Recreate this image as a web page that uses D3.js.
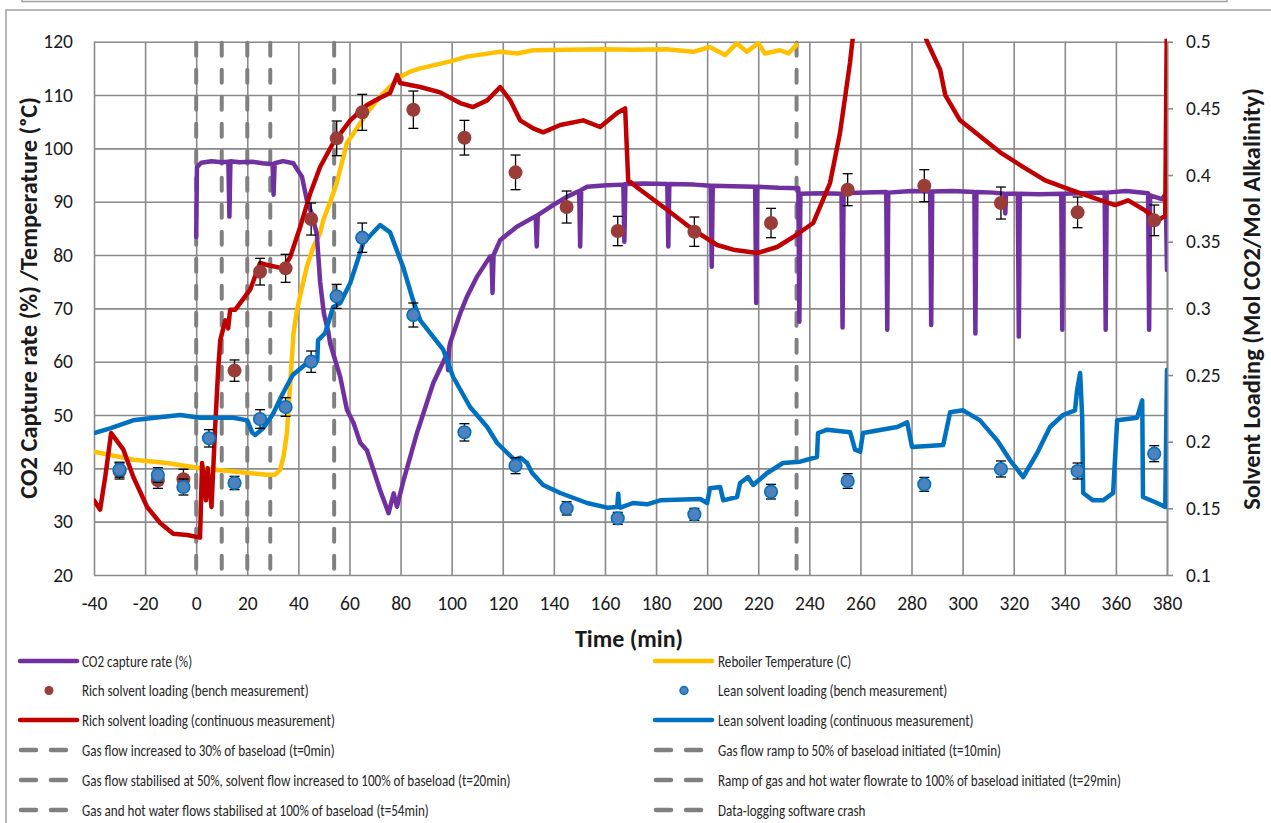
<!DOCTYPE html>
<html>
<head>
<meta charset="utf-8">
<script src="https://cdn.jsdelivr.net/npm/d3@7/dist/d3.min.js"></script>
<style>
  html, body { margin: 0; padding: 0; background: #fff; }
  svg { display: block; }
  text { font-family: Carlito, "Liberation Sans Narrow", Lato, sans-serif; }
</style>
</head>
<body>
<svg id="chart" width="1271" height="823"></svg>
<script>
// ---------------- DATA ----------------
const xTicks = [-40,-20,0,20,40,60,80,100,120,140,160,180,200,220,240,260,280,300,320,340,360,380];
const leftTicks = [20,30,40,50,60,70,80,90,100,110,120];
const rightTicks = [0.1,0.15,0.2,0.25,0.3,0.35,0.4,0.45,0.5];
const rightTickLabels = ["0.1","0.15","0.2","0.25","0.3","0.35","0.4","0.45","0.5"];

// CO2 capture rate (%) [time, value] - left axis
const co2Capture = [[0,83.4],[0.3,96.5],[2,97.3],[6,97.6],[10,97.4],[12.6,97.5],[13,87.2],[13.4,97.6],[17,97.4],[22,97.5],[26,97.2],[29.9,97],[30.3,91.3],[30.7,97.2],[34,97.6],[38,97.2],[41.4,94.7],[43.3,90.3],[45,88],[47.2,84],[48.5,75],[50,69],[51.8,65.4],[52.4,63.5],[56.4,57.1],[59,51],[61.6,48.5],[64.2,44.8],[66.8,43.4],[69.4,39.7],[72,35.9],[75.3,31.6],[77.3,35.3],[78.6,32.8],[81.2,37.8],[83.8,42.2],[86.4,46.6],[87.7,48.5],[92.8,56],[98.2,61.5],[98.6,58.4],[99,62.5],[99.4,63.5],[103.3,69],[106,72.2],[110,76],[115,79.7],[115.6,79.7],[116,72.9],[116.4,80],[119,82.8],[125.5,85.3],[132.9,87.3],[133.3,81.6],[133.7,87.5],[138.5,89],[145,90.9],[149.9,92],[150.3,81.6],[150.7,92.2],[153,92.8],[160.7,93.1],[167.2,93.2],[167.6,82.5],[168,93.3],[175,93.4],[184.4,93.3],[184.8,81.6],[185.2,93.3],[195,93.2],[201.4,93],[201.8,77.8],[202.2,93],[210,92.9],[218.8,92.8],[219.2,71],[219.6,92.8],[228,92.6],[235.7,92.5],[236.1,67.5],[236.5,91.5],[245,91.6],[252.6,91.5],[253,66.4],[253.4,91.6],[262,91.7],[270.1,91.8],[270.5,66],[270.9,91.7],[280,92],[287.3,91.9],[287.7,66.9],[288.1,91.9],[296,92],[304.6,91.8],[305,65.3],[305.4,91.8],[312,91.7],[316.4,91.5],[316.7,87.8],[317,91.5],[321.6,91.5],[322,64.7],[322.4,91.5],[330,91.4],[338.6,91.5],[339,66],[339.4,91.5],[347,91.6],[355.6,91.7],[356,66],[356.4,91.7],[364,92],[372.6,91.6],[373,66],[373.4,91.2],[378,90.5],[379.5,91.5],[380,77.2]];

// Reboiler temperature (C) - left axis
const reboilerTemp = [[-40,43.1],[-24.5,41.6],[-11.5,41],[1.5,40],[14.6,39.4],[27.7,38.8],[30.9,38.8],[32.8,39.7],[34.2,42.2],[35.5,46.6],[36.8,55.9],[38.1,65.3],[39.4,69.5],[41,73],[43.3,77.8],[45.9,81.6],[48.5,84.1],[49.8,86.6],[53.7,91.6],[55,93.5],[59,101],[61.6,102.8],[66.8,106.6],[72,109.7],[77.2,112.2],[79.8,113.4],[83.8,114.4],[87.7,115],[99.4,116.3],[106,117.2],[119,118.1],[125.5,117.8],[132,118.4],[145,118.5],[160,118.6],[171,118.5],[184,118.6],[194.6,118.1],[201,119],[207,117.5],[211.6,119.7],[215.5,118.1],[220,119.7],[222.6,117.8],[228.5,118.4],[231.8,117.8],[235,119.4]];

// Rich solvent loading (continuous) - right axis
const richContinuous = [[-40,0.156],[-37.6,0.149],[-35.5,0.175],[-33.3,0.2065],[-28.5,0.194],[-24.6,0.1735],[-19.2,0.151],[-14.1,0.139],[-9,0.131],[-3.5,0.130],[1.5,0.128],[2.3,0.184],[3.8,0.156],[4.5,0.18],[6,0.151],[7.4,0.21],[8.6,0.254],[9.4,0.276],[11.4,0.291],[12.5,0.285],[13.3,0.299],[15.3,0.299],[18,0.306],[21.1,0.314],[25,0.334],[27.8,0.3325],[34,0.330],[36.8,0.3385],[40.7,0.361],[44.6,0.386],[48.5,0.406],[53.6,0.424],[60.3,0.441],[66.9,0.4525],[72,0.458],[75.9,0.4615],[78.7,0.475],[79.8,0.469],[87.7,0.466],[95.5,0.462],[103.3,0.454],[108.4,0.451],[113.9,0.456],[119,0.466],[122.9,0.456],[126.8,0.441],[131.9,0.435],[135.8,0.432],[142.5,0.4375],[151.5,0.441],[158.1,0.436],[164.8,0.4465],[167.9,0.450],[169.1,0.396],[173.8,0.389],[184.3,0.374],[194.5,0.359],[203.9,0.3475],[210.2,0.344],[219.6,0.3415],[227.4,0.346],[233.7,0.3535],[241.5,0.364],[248.1,0.394],[252,0.4315],[255.9,0.484],[258,0.52],[270,0.56],[282,0.52],[286.1,0.5],[291.2,0.479],[293.2,0.460],[299,0.441],[308.8,0.426],[314.7,0.417],[322.5,0.4075],[332.3,0.396],[342.1,0.389],[351.9,0.3825],[359.7,0.3775],[364.8,0.381],[371.4,0.3735],[376.5,0.366],[379.3,0.3695],[380,0.53]];

// Lean solvent loading (continuous) - right axis
const leanContinuous = [[-40,0.2065],[-33.7,0.21],[-24.7,0.216],[-18,0.2175],[-6.3,0.22],[1.6,0.218],[14.5,0.218],[20,0.216],[21.9,0.207],[23.1,0.205],[26.2,0.21],[30.1,0.221],[34,0.2365],[37.8,0.25],[43.4,0.259],[47.4,0.261],[47.7,0.276],[50.5,0.2815],[53.6,0.301],[56.4,0.304],[60.3,0.319],[65.4,0.349],[72,0.3625],[75.9,0.357],[81,0.331],[84.9,0.306],[87.7,0.291],[96.7,0.269],[100.6,0.2485],[107.2,0.226],[113.9,0.211],[117.8,0.199],[124.5,0.1865],[127,0.188],[129.5,0.184],[131.5,0.1765],[135.8,0.1675],[142.5,0.1615],[153,0.154],[160.9,0.1505],[164.8,0.151],[165.2,0.161],[165.6,0.151],[166,0.1505],[171,0.154],[176.5,0.153],[181.6,0.156],[197.3,0.157],[200,0.154],[201.1,0.165],[205.1,0.166],[206.3,0.156],[211.7,0.1585],[212.9,0.169],[216,0.1735],[218,0.1675],[223.5,0.1765],[229.7,0.184],[236.4,0.185],[243,0.1885],[243.4,0.2065],[247,0.209],[256,0.207],[257.9,0.194],[259.9,0.1925],[261,0.2065],[274.4,0.211],[278.3,0.2145],[280.2,0.196],[292.4,0.1975],[295.1,0.222],[300.2,0.2235],[306.8,0.216],[313.5,0.201],[318.6,0.186],[323.7,0.1735],[329.2,0.1915],[334.2,0.211],[339.3,0.22],[344,0.2235],[344.8,0.2385],[346,0.2515],[346.8,0.2185],[347.2,0.1615],[351,0.156],[355,0.156],[358.9,0.1615],[360.5,0.216],[368.3,0.218],[370.3,0.231],[370.6,0.1585],[376.1,0.154],[379.3,0.151],[380,0.254]];

// Bench measurements [time, loading, error] - right axis
const richBench = [[-30,0.178,0.006],[-15,0.171,0.006],[-5,0.1718,0.0075],[15,0.2533,0.008],[25,0.3275,0.01],[35,0.330,0.0105],[45,0.367,0.012],[55,0.4275,0.013],[65,0.447,0.0135],[85,0.449,0.014],[105,0.428,0.013],[125,0.402,0.013],[145,0.376,0.012],[165,0.358,0.011],[195,0.3575,0.011],[225,0.364,0.011],[255,0.389,0.012],[285,0.392,0.012],[315,0.379,0.012],[345,0.372,0.0115],[375,0.366,0.0115]];
const leanBench = [[-30,0.179,0.0056],[-15,0.175,0.0055],[-5,0.166,0.006],[5,0.2025,0.0065],[15,0.169,0.005],[25,0.217,0.007],[35,0.226,0.007],[45,0.26,0.008],[55,0.309,0.009],[65,0.353,0.011],[85,0.295,0.009],[105,0.207,0.0065],[125,0.182,0.006],[145,0.15,0.005],[165,0.1425,0.0045],[195,0.1455,0.0045],[225,0.1625,0.0055],[255,0.1705,0.0055],[285,0.168,0.0052],[315,0.1795,0.006],[345,0.178,0.006],[375,0.191,0.006]];

// Event markers (vertical dashed lines), minutes
const eventTimes = [0,10,20,29,54,235];

// Legend labels (two columns)
const legendLeft = ["CO2 capture rate (%)","Rich solvent loading (bench measurement)","Rich solvent loading (continuous measurement)","Gas flow increased to 30% of baseload (t=0min)","Gas flow stabilised at 50%, solvent flow increased to 100% of baseload (t=20min)","Gas and hot water flows stabilised at 100% of baseload (t=54min)"];
const legendRight = ["Reboiler Temperature (C)","Lean solvent loading (bench measurement)","Lean solvent loading (continuous measurement)","Gas flow ramp to 50% of baseload initiated (t=10min)","Ramp of gas and hot water flowrate to 100% of baseload initiated (t=29min)","Data-logging software crash"];
const legendLeftKinds = ["line:purple","dot:rich","line:red","dash","dash","dash"];
const legendRightKinds = ["line:yellow","dot:lean","line:blue","dash","dash","dash"];

// ---------------- STYLE ----------------
const C = {purple:"#7030a0", yellow:"#ffc000", red:"#c00000", blue:"#0070c0",
           richFill:"#9a3c38", leanFill:"#4f81bd", leanStroke:"#0070c0",
           grid:"#8a8a8a", dash:"#808080", text:"#1a1a1a"};

const svg = d3.select("#chart");
const P = {l:94, r:1167, t:41.7, b:575};

const x = d3.scaleLinear().domain([-40,380]).range([P.l,P.r]);
const yL = d3.scaleLinear().domain([20,120]).range([P.b,P.t]);
const yR = d3.scaleLinear().domain([0.1,0.5]).range([P.b,P.t]);

// outer frames
svg.append("path").attr("d","M22,-2 V1.5 H1227 V-2").attr("fill","none").attr("stroke","#a0a0a0").attr("stroke-width",1.5);
svg.append("path").attr("d","M6,830 V10 H1280").attr("fill","none").attr("stroke","#a0a0a0").attr("stroke-width",1.5);

svg.append("defs").append("clipPath").attr("id","plotclip")
  .append("rect").attr("x",P.l).attr("y",P.t-3).attr("width",P.r-P.l).attr("height",P.b-P.t+3);

// grid + axes
const hy = d => String(d).replace("\u2212","-");
const gx = svg.append("g").attr("transform",`translate(0,${P.b})`)
  .call(d3.axisBottom(x).tickValues(xTicks).tickSize(-(P.b-P.t)).tickPadding(21).tickFormat(d=>hy(d)));
const gl = svg.append("g").attr("transform",`translate(${P.l},0)`)
  .call(d3.axisLeft(yL).tickValues(leftTicks).tickSize(-(P.r-P.l)).tickPadding(21).tickFormat(d=>hy(d)));
const gr = svg.append("g").attr("transform",`translate(${P.r},0)`)
  .call(d3.axisRight(yR).tickValues(rightTicks).tickSizeInner(6).tickSizeOuter(0).tickPadding(13).tickFormat((d,i)=>rightTickLabels[i]));
[gx,gl].forEach(g=>{ g.select(".domain").remove(); });
[gx,gl,gr].forEach(g=>{
  g.selectAll(".tick line").attr("stroke",C.grid).attr("stroke-width",1.6);
  g.selectAll("text").attr("fill",C.text).attr("font-size",19.5);
});
gr.select(".domain").attr("stroke",C.grid).attr("stroke-width",1.6);

// event lines
const plot = svg.append("g").attr("clip-path","url(#plotclip)");
plot.selectAll("line.ev").data(eventTimes).enter().append("line")
  .attr("x1",d=>x(d)).attr("x2",d=>x(d)).attr("y1",P.t+1).attr("y2",P.b)
  .attr("stroke",C.dash).attr("stroke-width",4).attr("stroke-dasharray","13,14").attr("stroke-linecap","round");

const lineL = d3.line().x(d=>x(d[0])).y(d=>yL(d[1]));
const lineR = d3.line().x(d=>x(d[0])).y(d=>yR(d[1]));
function drawLine(data, gen, color){
  plot.append("path").datum(data).attr("d",gen).attr("fill","none")
    .attr("stroke",color).attr("stroke-width",4.5).attr("stroke-linejoin","round").attr("stroke-linecap","round");
}
drawLine(reboilerTemp, lineL, C.yellow);
drawLine(co2Capture, lineL, C.purple);
drawLine(richContinuous, lineR, C.red);
drawLine(leanContinuous, lineR, C.blue);

// bench points with error bars
function drawBench(data, fill, stroke, r){
  const g = svg.append("g");
  const eb = g.selectAll("g.eb").data(data).enter().append("g");
  eb.append("line").attr("x1",d=>x(d[0])).attr("x2",d=>x(d[0]))
    .attr("y1",d=>yR(d[1]-d[2])).attr("y2",d=>yR(d[1]+d[2])).attr("stroke","#000").attr("stroke-width",1.3);
  eb.append("line").attr("x1",d=>x(d[0])-5).attr("x2",d=>x(d[0])+5)
    .attr("y1",d=>yR(d[1]-d[2])).attr("y2",d=>yR(d[1]-d[2])).attr("stroke","#000").attr("stroke-width",1.3);
  eb.append("line").attr("x1",d=>x(d[0])-5).attr("x2",d=>x(d[0])+5)
    .attr("y1",d=>yR(d[1]+d[2])).attr("y2",d=>yR(d[1]+d[2])).attr("stroke","#000").attr("stroke-width",1.3);
  g.selectAll("circle").data(data).enter().append("circle")
    .attr("cx",d=>x(d[0])).attr("cy",d=>yR(d[1])).attr("r",r)
    .attr("fill",fill).attr("stroke",stroke||"none").attr("stroke-width",stroke?1.6:0);
}
drawBench(richBench, C.richFill, null, 7);
drawBench(leanBench, C.leanFill, C.leanStroke, 6.3);

// axis titles
svg.append("text").attr("transform","translate(37,298) rotate(-90)").attr("text-anchor","middle")
  .attr("font-size",24.5).attr("font-weight","bold").attr("fill",C.text).text("CO2 Capture rate (%) /Temperature (ᵒC)");
svg.append("text").attr("transform","translate(1260,299) rotate(-90)").attr("text-anchor","middle")
  .attr("font-size",24.5).attr("font-weight","bold").attr("fill",C.text).text("Solvent Loading (Mol CO2/Mol Alkalinity)");
svg.append("text").attr("x",629).attr("y",647).attr("text-anchor","middle")
  .attr("font-size",24).attr("font-weight","bold").attr("fill",C.text).text("Time (min)");

// legend
const rowY = [661,690.5,720,750,780,810];
function drawLegend(labels, kinds, x0, textX){
  labels.forEach((lab,i)=>{
    const y = rowY[i], k = kinds[i];
    if(k.startsWith("line:")){
      svg.append("line").attr("x1",x0).attr("x2",x0+57).attr("y1",y).attr("y2",y)
        .attr("stroke",C[k.slice(5)]).attr("stroke-width",4.5).attr("stroke-linecap","round");
    } else if(k==="dot:rich"){
      svg.append("circle").attr("cx",x0+29).attr("cy",y).attr("r",4.5).attr("fill",C.richFill);
    } else if(k==="dot:lean"){
      svg.append("circle").attr("cx",x0+29).attr("cy",y).attr("r",4).attr("fill",C.leanFill).attr("stroke",C.leanStroke).attr("stroke-width",1.4);
    } else {
      svg.append("line").attr("x1",x0+1).attr("x2",x0+48).attr("y1",y).attr("y2",y)
        .attr("stroke",C.dash).attr("stroke-width",4.5).attr("stroke-dasharray","15,15").attr("stroke-linecap","round");
    }
    svg.append("text").attr("transform",`translate(${textX},${y+5.5}) scale(0.845,1)`)
      .attr("font-size",15.5).attr("fill","#262626").text(lab);
  });
}
drawLegend(legendLeft, legendLeftKinds, 20, 82);
drawLegend(legendRight, legendRightKinds, 655, 718);
</script>
</body>
</html>
